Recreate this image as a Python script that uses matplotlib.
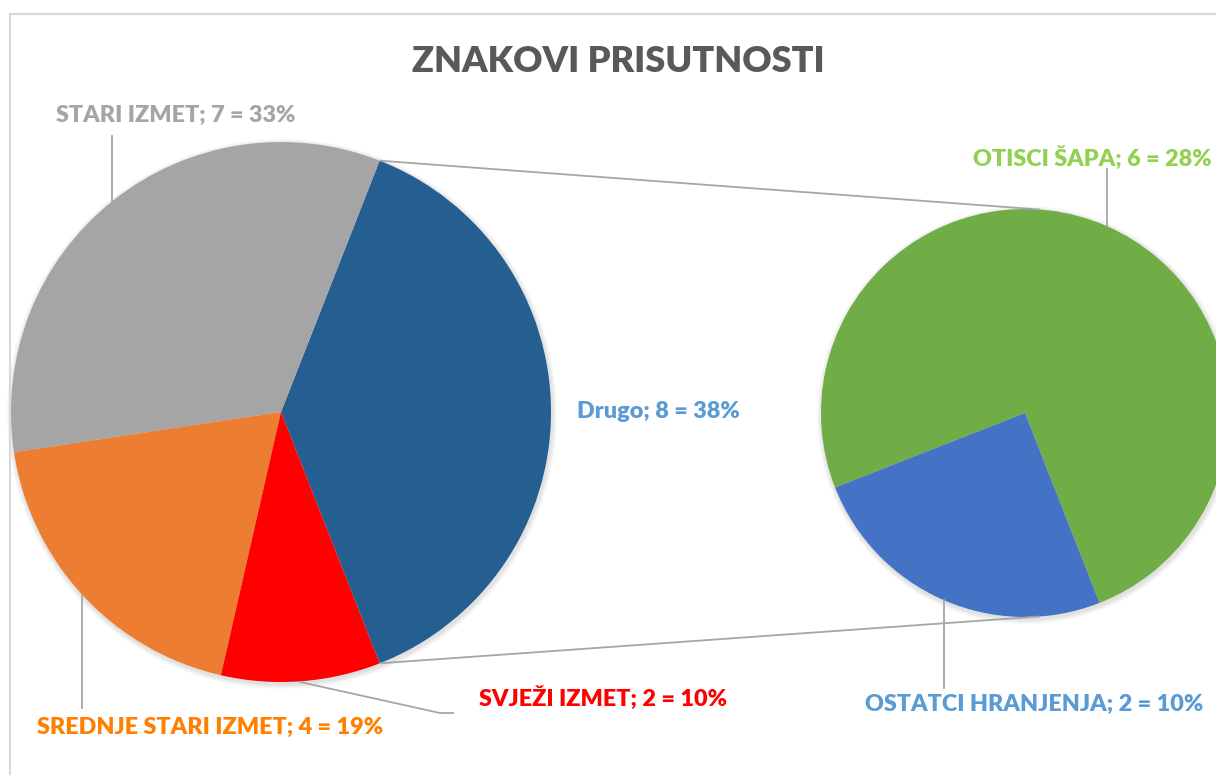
import numpy as np
import matplotlib.pyplot as plt
from matplotlib.patches import Circle

W, H = 1216, 775

# -----------------------------
# Data
# -----------------------------
main_labels = ["Drugo", "STARI IZMET", "SREDNJE STARI IZMET", "SVJEŽI IZMET"]
main_values = [8, 7, 4, 2]
main_pct = ["38%", "33%", "19%", "10%"]
main_colors = ["#255E91", "#A5A5A5", "#ED7D31", "#FF0000"]
main_text_colors = ["#5B9BD5", "#A5A5A5", "#FF7F00", "#FF0000"]

sub_labels = ["OTISCI ŠAPA", "OSTATCI HRANJENJA"]
sub_values = [6, 2]
sub_pct = ["28%", "10%"]
sub_colors = ["#70AD47", "#4472C4"]
sub_text_colors = ["#92D050", "#5B9BD5"]

title = "ZNAKOVI PRISUTNOSTI"

# -----------------------------
# Layout (pixels, y from top)
# -----------------------------
cx1, cy1, r1 = 281, 412, 270
cx2, cy2, r2 = 1025, 413, 204

def Y(y):
    return H - y

plt.rcParams['font.family'] = ['Lato', 'DejaVu Sans']

fig = plt.figure(figsize=(W / 100, H / 100), dpi=100)
ax = fig.add_axes([0, 0, 1, 1])

# soft shadow behind the pies
for cx, cy, r in [(cx1, cy1, r1), (cx2, cy2, r2)]:
    for k in range(1, 6):
        ax.add_patch(Circle((cx + 1, Y(cy) - 2), r + k, color="black",
                            alpha=0.025, lw=0, zorder=0))

start = -180.0 * main_values[0] / sum(main_values)

ax.pie(main_values, colors=main_colors, startangle=start, counterclock=True,
       center=(cx1, Y(cy1)), radius=r1, frame=True,
       wedgeprops=dict(linewidth=0))
ax.pie(sub_values, colors=sub_colors, startangle=start, counterclock=True,
       center=(cx2, Y(cy2)), radius=r2, frame=True,
       wedgeprops=dict(linewidth=0))

# connector lines: edges of "Drugo" slice to tangent points of the second pie
line_col = "#A6A6A6"
for sgn in [1, -1]:
    a = np.deg2rad(sgn * -start)
    px, py = cx1 + r1 * np.cos(a), Y(cy1) + r1 * np.sin(a)
    dx, dy = px - cx2, py - Y(cy2)
    d = np.hypot(dx, dy)
    phi = np.arctan2(dy, dx)
    t = phi - sgn * np.arccos(r2 / d)
    tx, ty = cx2 + r2 * np.cos(t), Y(cy2) + r2 * np.sin(t)
    ax.plot([px, tx], [py, ty], color=line_col, lw=1.3, zorder=3,
            solid_capstyle="butt")

# leader lines (pixel coords)
leaders = [
    ([112, 112], [136, 201]),
    ([1107, 1107], [169, 226]),
    ([82, 82], [595, 708]),
    ([300, 440, 453], [682, 713, 713]),
    ([944, 944], [600, 688]),
]
for xs, ys in leaders:
    ax.plot(xs, [Y(v) for v in ys], color=line_col, lw=1.3, zorder=4)

# data labels (centre positions)
fs = 16.8
main_pos = [(658, 412), (176, 115), (210, 727), (603, 698)]
for lab, val, pct, col, (x, y) in zip(main_labels, main_values, main_pct,
                                        main_text_colors, main_pos):
    ax.text(x, Y(y), f"{lab}; {val} = {pct}", color=col, fontsize=fs,
            fontweight="heavy", ha="center", va="center", zorder=5)

sub_pos = [(1092, 158), (1034, 704)]
for lab, val, pct, col, (x, y) in zip(sub_labels, sub_values, sub_pct,
                                        sub_text_colors, sub_pos):
    ax.text(x, Y(y), f"{lab}; {val} = {pct}", color=col, fontsize=fs,
            fontweight="heavy", ha="center", va="center", zorder=5)

ax.text(618, Y(61), title, color="#595959", fontsize=26, fontweight="heavy",
        ha="center", va="center")

# chart border
ax.plot([10, 10, W + 5], [Y(H + 5), Y(14), Y(14)], color="#D9D9D9", lw=1.5,
        zorder=1)

ax.set_xlim(0, W)
ax.set_ylim(0, H)
ax.set_aspect("equal")
ax.axis("off")

plt.savefig("out.png", dpi=100)
